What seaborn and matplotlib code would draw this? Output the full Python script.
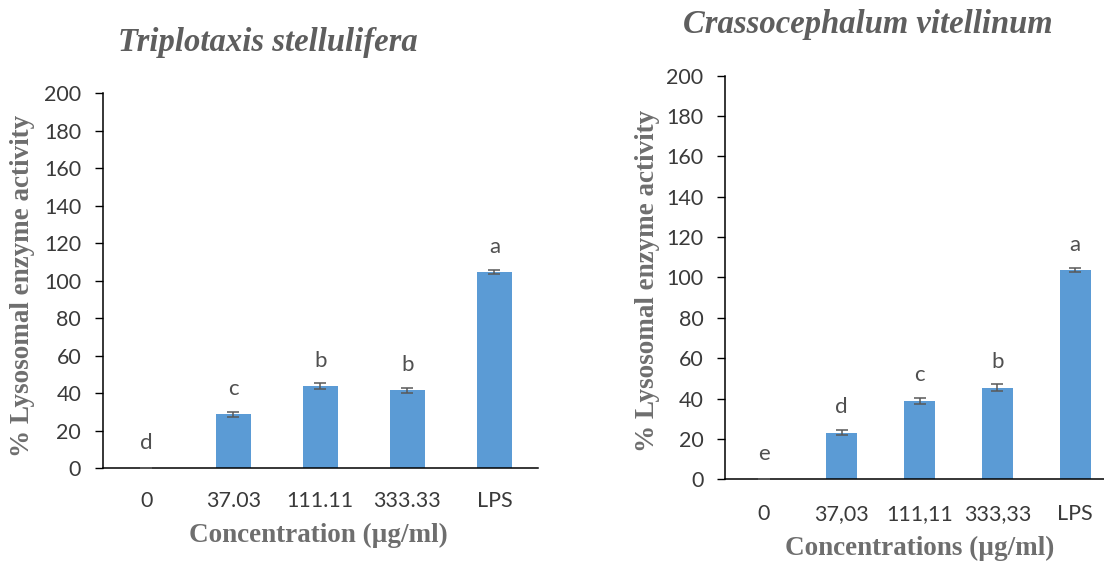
import numpy as np
import pandas as pd
import matplotlib
matplotlib.use("Agg")
import matplotlib.pyplot as plt
import seaborn as sns

# ---- data ----
left_title = "Triplotaxis stellulifera"
left_cats = ["0", "37.03", "111.11", "333.33", "LPS"]
left_vals = [0.0, 28.8, 43.7, 41.6, 104.5]
left_errs = [0.0, 1.4, 1.6, 1.4, 1.1]
left_letters = ["d", "c", "b", "b", "a"]
left_xlabel = "Concentration (µg/ml)"

right_title = "Crassocephalum vitellinum"
right_cats = ["0", "37,03", "111,11", "333,33", "LPS"]
right_vals = [0.0, 23.1, 38.8, 45.4, 103.6]
right_errs = [0.0, 1.2, 1.4, 1.7, 1.0]
right_letters = ["e", "d", "c", "b", "a"]
right_xlabel = "Concentrations (µg/ml)"

ylabel = "% Lysosomal enzyme activity"
yticks = list(range(0, 201, 20))

sns.set_theme(style="white")
plt.rcParams["font.family"] = ["Lato", "DejaVu Sans"]

BAR = "#5B9BD5"
TICKC = "#3a3a3a"
LETTERC = "#505050"
TITLEC = "#5e5e5e"
LABELC = "#6e6e6e"
SERIF = ["Liberation Serif", "DejaVu Serif"]

fig = plt.figure(figsize=(11.04, 5.61), dpi=100)

panels = [
    dict(rect=[0.0930, 0.1652, 0.3943, 0.6685], cats=left_cats, vals=left_vals,
         errs=left_errs, letters=left_letters, xlabel=left_xlabel, title=left_title,
         title_pos=(268.3 / 1104, 1 - 43 / 561), xl=(0.496, -0.178), yl=(-0.184, 0.485),
         xpad=16.5),
    dict(rect=[0.6567, 0.1456, 0.3524, 0.7195], cats=right_cats, vals=right_vals,
         errs=right_errs, letters=right_letters, xlabel=right_xlabel, title=right_title,
         title_pos=(868.3 / 1104, 1 - 25 / 561), xl=(0.501, -0.170), yl=(-0.199, 0.491),
         xpad=18.0),
]

for p in panels:
    ax = fig.add_axes(p["rect"])
    df = pd.DataFrame({"cat": p["cats"], "val": p["vals"], "err": p["errs"]})
    sns.barplot(data=df, x="cat", y="val", color=BAR, width=0.4, errorbar=None,
                saturation=1, linewidth=0, ax=ax)
    pos = np.arange(len(df))
    ax.errorbar(pos, df["val"], yerr=df["err"], fmt="none", ecolor="#595959",
                elinewidth=1.1, capsize=4, capthick=1.1, zorder=5)
    for x, v, t in zip(pos, df["val"], p["letters"]):
        ax.annotate(t, (x, v), xytext=(0, 18.5), textcoords="offset points",
                    ha="center", va="center", fontsize=16, color=LETTERC)
    ax.set_xlim(-0.5, len(df) - 0.5)
    ax.set_ylim(0, 200)
    ax.set_yticks(yticks)
    ax.set_yticklabels([str(t) for t in yticks])
    for s in ["top", "right"]:
        ax.spines[s].set_visible(False)
    for s in ["left", "bottom"]:
        ax.spines[s].set_color("black")
        ax.spines[s].set_linewidth(1.1)
    ax.tick_params(axis="y", which="major", left=True, length=5.5, width=1.0,
                   color="black", pad=10, labelsize=15.5, labelcolor=TICKC)
    ax.tick_params(axis="x", which="major", bottom=False, length=0, pad=p["xpad"],
                   labelsize=15.5, labelcolor=TICKC)
    ax.set_xlabel(p["xlabel"], family=SERIF, fontweight="bold", fontsize=19.5, color=LABELC)
    ax.xaxis.set_label_coords(*p["xl"])
    ax.xaxis.label.set_va("center")
    ax.set_ylabel(ylabel, family=SERIF, fontweight="bold", fontsize=19.5, color=LABELC)
    ax.yaxis.set_label_coords(*p["yl"])
    ax.yaxis.label.set_va("center")
    ax.grid(False)
    fig.text(p["title_pos"][0], p["title_pos"][1], p["title"], family=SERIF,
             fontweight="bold", fontstyle="italic", fontsize=23.5, color=TITLEC,
             ha="center", va="center")

fig.savefig("out.png", dpi=100)
